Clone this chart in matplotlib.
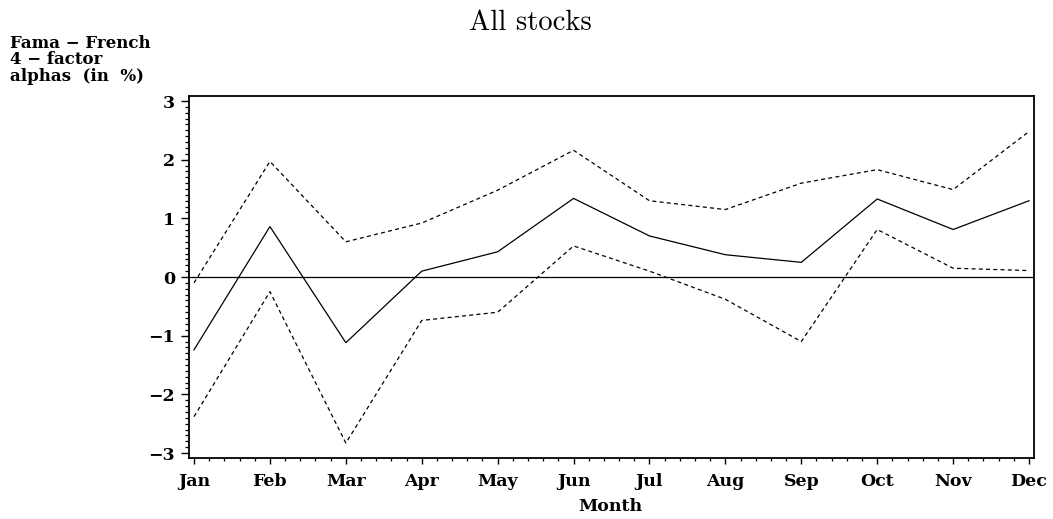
import matplotlib
matplotlib.use("Agg")
import matplotlib.pyplot as plt
from matplotlib.ticker import FixedLocator, MultipleLocator, FuncFormatter

plt.rcParams["axes.unicode_minus"] = True

months = ["Jan", "Feb", "Mar", "Apr", "May", "Jun",
          "Jul", "Aug", "Sep", "Oct", "Nov", "Dec"]
alpha = [-1.24, 0.86, -1.12, 0.10, 0.43, 1.34, 0.70, 0.38, 0.25, 1.33, 0.81, 1.30]
upper = [-0.10, 1.97, 0.60, 0.92, 1.48, 2.16, 1.30, 1.15, 1.60, 1.83, 1.49, 2.48]
lower = [-2.38, -0.25, -2.83, -0.74, -0.60, 0.53, 0.10, -0.38, -1.10, 0.81, 0.15, 0.11]
y_ticks = [-3, -2, -1, 0, 1, 2, 3]

x = list(range(1, len(months) + 1))

label_font = dict(family="DejaVu Serif", weight="bold")

fig = plt.figure(figsize=(10.53, 5.19), dpi=100)
ax = fig.add_axes([0.1795, 0.1175, 0.8025, 0.6975])

ax.axhline(0, color="black", lw=0.9)
ax.plot(x, alpha, color="black", lw=0.9, solid_joinstyle="miter")
dash = (0, (3.2, 2.6))
ax.plot(x, upper, color="black", lw=0.9, linestyle=dash)
ax.plot(x, lower, color="black", lw=0.9, linestyle=dash)

ax.set_xlim(0.934, 12.066)
ax.set_ylim(-3.085, 3.085)

ax.xaxis.set_major_locator(FixedLocator(x))
ax.xaxis.set_minor_locator(MultipleLocator(0.2))
ax.set_xticklabels(months)

ax.yaxis.set_major_locator(FixedLocator(y_ticks))
ax.yaxis.set_minor_locator(MultipleLocator(0.1))
ax.yaxis.set_major_formatter(FuncFormatter(lambda v, p: "%d" % round(v) if v >= 0 else "\u2212%d" % round(-v)))

for lab in ax.get_xticklabels() + ax.get_yticklabels():
    lab.set_fontfamily("DejaVu Serif")
    lab.set_fontweight("bold")

for side in ax.spines.values():
    side.set_linewidth(1.3)

ax.tick_params(axis="x", which="major", length=4.5, width=1.0, pad=6.5, labelsize=12.5, direction="out")
ax.tick_params(axis="x", which="minor", length=2.5, width=0.9, direction="out")
ax.tick_params(axis="y", which="major", length=5.5, width=1.0, pad=4.5, labelsize=12.5, direction="out")
ax.tick_params(axis="y", which="minor", length=3.0, width=0.9, direction="out")

fig.text(0.504, 1 - 29.5 / 519, "All stocks", ha="center", va="baseline",
         fontsize=20.5, family="cmr10")
fig.text(0.58, 1 - 511 / 519, "Month", ha="center", va="baseline", fontsize=12.5, **label_font)

ylab = ["Fama \u2212 French", "4 \u2212 factor", "alphas  (in  %)"]
baselines = [48, 64.5, 81]
for s, b in zip(ylab, baselines):
    fig.text(10 / 1053, 1 - b / 519, s, ha="left", va="baseline", fontsize=12, **label_font)

fig.savefig("out.png", dpi=100)
